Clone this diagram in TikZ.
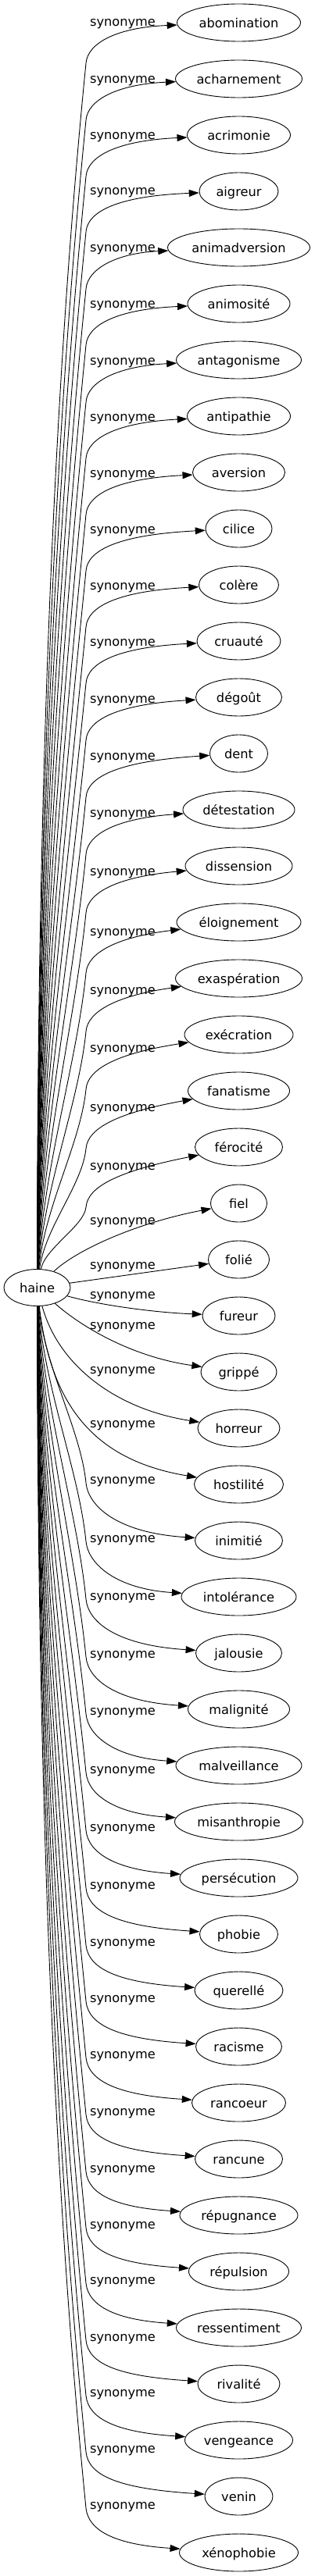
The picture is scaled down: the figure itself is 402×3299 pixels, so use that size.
\documentclass[tikz,border=0pt]{standalone}
\usepackage{fontspec}
\setmainfont{DejaVu Sans}
\usetikzlibrary{arrows.meta, shapes.geometric}
\tikzset{
  every picture/.style={x=1pt, y=-1pt, line width=0.9pt},
  term/.style={ellipse, draw, inner sep=0pt, minimum height=48pt, minimum width=#1,
    text height=13pt, text depth=0pt, font=\fontsize{16.2}{19}\selectfont},
  term/.default=85pt,
  tag/.style={inner sep=0pt, text height=13pt, text depth=0pt, font=\fontsize{16.2}{19}\selectfont},
  arrow/.style={-{Triangle[length=13pt, width=9pt]}},
}
\begin{document}
\begin{tikzpicture}
  \useasboundingbox (0,0) rectangle (402,3299);
  \node[term=85pt, minimum height=47pt] (haine) at (47.5,1649) {haine};
  % synonyms, one row every 72pt
  \foreach \k/\lab/\ww in {0/abomination/158, 1/acharnement/162, 2/acrimonie/132, 3/aigreur/101,
      4/animadversion/182, 5/animosité/131, 6/antagonisme/160, 7/antipathie/132, 8/aversion/118,
      9/cilice/85, 10/colère/102, 11/cruauté/107, 12/dégoût/110, 13/dent/74, 14/détestation/143,
      15/dissension/137, 16/éloignement/159, 17/exaspération/162, 18/exécration/139,
      19/fanatisme/130, 20/férocité/112, 21/fiel/72, 22/folié/78, 23/fureur/93, 24/grippé/97,
      25/horreur/105, 26/hostilité/114, 27/inimitié/112, 28/intolérance/147, 29/jalousie/110,
      30/malignité/130, 31/malveillance/161, 32/misanthropie/164, 33/persécution/151,
      34/phobie/100, 35/querellé/113, 36/racisme/110, 37/rancoeur/120, 38/rancune/112,
      39/répugnance/151, 40/répulsion/128, 41/ressentiment/160, 42/rivalité/105,
      43/vengeance/138, 44/venin/87, 45/xénophobie/152}
    \node[term=\ww pt] (w\k) at (305.5,29+72*\k) {\lab};
  % edge labels
  \foreach \k/\ly in {0/27, 1/100, 2/172, 3/243, 4/316, 5/388, 6/461, 7/533, 8/605, 9/677,
      10/749, 11/821, 12/894, 13/967, 14/1040, 15/1115, 16/1192, 17/1267, 18/1341, 19/1417,
      20/1492, 21/1562, 22/1619, 23/1657, 24/1696, 25/1753, 26/1822, 27/1894, 28/1969,
      29/2043, 30/2117, 31/2190, 32/2265, 33/2339, 34/2413, 35/2486, 36/2558, 37/2630,
      38/2703, 39/2776, 40/2848, 41/2919, 42/2992, 43/3063, 44/3135, 45/3207}
    \node[tag] (s\k) at (157,\ly) {synonyme};
  % upper edges: trunk up, then bend under the label
  \foreach \k/\ly in {0/27, 1/100, 2/172, 3/243, 4/316, 5/388, 6/461, 7/533, 8/605, 9/677,
      10/749, 11/821, 12/894, 13/967, 14/1040, 15/1115, 16/1192, 17/1267, 18/1341, 19/1417,
      20/1492} {
    \pgfmathsetmacro\ssx{48+0.5*\k}
    \pgfmathsetmacro\bby{\ly+54}
    \pgfmathsetmacro\ddd{1626-\bby}
    \pgfmathsetmacro\cca{1626-0.35*\ddd}
    \pgfmathsetmacro\hhh{0.3*\ddd}
    \pgfmathsetmacro\ccx{110-0.1*\hhh}
    \pgfmathsetmacro\ccb{\bby+\hhh}
    \draw[arrow] (haine) .. controls (\ssx,\cca) and (\ccx,\ccb) .. (110,\bby)
      .. controls (112,\ly+28) and (150,\ly+8) .. (w\k);
  }
  % edges next to haine
  \draw[arrow] (haine) .. controls (95,1603) and (170,1567) .. (w21);
  \draw[arrow] (haine) -- (w22);
  \draw[arrow] (haine) .. controls (130,1672) and (200,1681) .. (w23);
  \draw[arrow] (haine) .. controls (105,1700) and (170,1738) .. (w24);
  \draw[arrow] (haine) .. controls (75,1750) and (150,1805) .. (w25);
  \draw[arrow] (haine) .. controls (65,1800) and (120,1870) .. (w26);
  % lower edges: trunk down, then bend under the label
  \foreach \k/\ly in {27/1894, 28/1969, 29/2043, 30/2117, 31/2190, 32/2265, 33/2339,
      34/2413, 35/2486, 36/2558, 37/2630, 38/2703, 39/2776, 40/2848, 41/2919, 42/2992,
      43/3063, 44/3135, 45/3207} {
    \pgfmathsetmacro\ssx{48+0.5*(45-\k)}
    \pgfmathsetmacro\bby{\ly+5}
    \pgfmathsetmacro\ddd{\bby-1672}
    \pgfmathsetmacro\cca{1672+0.35*\ddd}
    \pgfmathsetmacro\hhh{0.3*\ddd}
    \pgfmathsetmacro\ccx{110-0.1*\hhh}
    \pgfmathsetmacro\ccb{\bby-\hhh}
    \pgfmathsetmacro\nny{29+72*\k}
    \draw[arrow] (haine) .. controls (\ssx,\cca) and (\ccx,\ccb) .. (110,\bby)
      .. controls (113,\ly+35) and (150,\nny-10) .. (w\k);
  }
\end{tikzpicture}
\end{document}
